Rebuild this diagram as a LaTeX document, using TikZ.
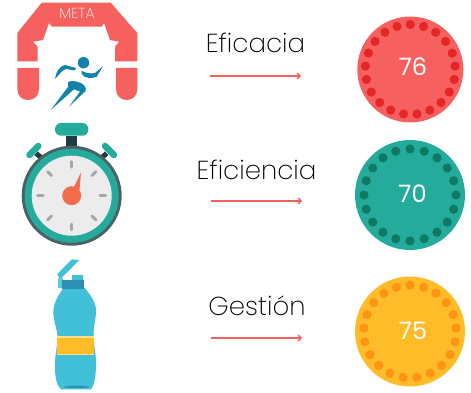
\documentclass[tikz,border=0pt]{standalone}
\usepackage{fontspec}
\setmainfont[UprightFont=* ExtraLight]{Poppins}
\newfontfamily\numfont{Poppins}
\usetikzlibrary{arrows.meta}
\definecolor{archred}{HTML}{F6605E}
\definecolor{runblue}{HTML}{1283A8}
\definecolor{teal}{HTML}{24AB9B}
\definecolor{tealdark}{HTML}{0E7A63}
\definecolor{ringgrey}{HTML}{4A6266}
\definecolor{stemdark}{HTML}{1F3A40}
\definecolor{facegrey}{HTML}{ECECEC}
\definecolor{tickgrey}{HTML}{A7A7A7}
\definecolor{handred}{HTML}{F26B4B}
\definecolor{bottleblue}{HTML}{42C0D8}
\definecolor{capblue}{HTML}{2E8FB5}
\definecolor{amber}{HTML}{FFBB28}
\definecolor{amberdark}{HTML}{FF9412}
\definecolor{paleamber}{HTML}{FFE08A}
\definecolor{dotred}{HTML}{E62526}
\tikzset{
  x=1pt,y=-1pt,
  title/.style={anchor=base,font=\fontsize{26}{30}\selectfont,text=black,inner sep=0pt},
  score/.style={anchor=center,font=\numfont\fontsize{24}{26}\selectfont,text=white,inner sep=0pt},
  flow/.style={draw=archred,line width=1.3pt,-{Straight Barb[length=3pt,width=6pt]}},
  tick/.style={draw=tickgrey,line width=3pt,line cap=round}
}
\newcommand{\dotring}[7]{% cx cy r fill dotcolor n ringr
  \fill[#4] (#1,#2) circle[radius=#3];
  \foreach \k in {1,...,#6}{
    \fill[#5] ({#1+#7*cos(90-(\k-1)*360/#6)},{#2-#7*sin(90-(\k-1)*360/#6)}) circle[radius=4.6];
  }
}
\begin{document}
\begin{tikzpicture}
\useasboundingbox (0,0) rectangle (471,393);
% arch
\fill[archred] (41.7,2.7) -- (110.7,2.7) -- (137.3,33) -- (137.3,61.5) -- (115,61.5) -- (115,46.7) -- (119,41.7) -- (110,40) -- (104,23) -- (101.7,26.7) -- (52,26.7) -- (49,23) -- (43,40) -- (33,41.7) -- (37.7,46.7) -- (37.7,61.5) -- (17.3,61.5) -- (17.3,33) -- cycle;
\fill[archred] (17.3,68) -- (39,68) -- (39,89) .. controls (39,96) and (34,100) .. (28.2,100) .. controls (22,100) and (17.3,96) .. (17.3,89) -- cycle;
\fill[archred] (116,68) -- (137.3,68) -- (137.3,89) .. controls (137.3,96) and (132.5,100) .. (126.7,100) .. controls (121,100) and (116,96) .. (116,89) -- cycle;
\node[anchor=base,font=\fontsize{14.5}{16}\selectfont,text=white,inner sep=0pt] (meta) at (77,19) {META};
% runner
\fill[runblue] (83.5,62.7) circle[radius=5.7];
\fill[runblue] (55,79) .. controls (56,73) and (58,67) .. (65,65) -- (76,68) -- (75,70.5) -- (66,69) .. controls (62,70) and (60,74) .. cycle;
\fill[runblue] (81.7,70.7) .. controls (85,73) and (90,74) .. (95,73) -- (103,66) -- (96.7,76.7) .. controls (92,78.5) and (85,79) .. (81.7,74) -- cycle;
\fill[runblue] (68,82) .. controls (72,80.5) and (76,81) .. (80,82.7) .. controls (84,84) and (87,88) .. (85.5,91) -- (69,106.7) -- (80,91.7) -- (74,89.3) -- (50.7,110) -- (68,87) -- cycle;
% stopwatch
\fill[teal,rounded corners=6pt] (55,123) rectangle (88.3,135.7);
\fill[stemdark] (65.7,135.7) rectangle (77.3,147);
\draw[stemdark,line width=5pt] (36,153.3) -- (41.7,158);
\draw[stemdark,line width=5pt] (106.7,153.3) -- (101.7,157.7);
\draw[teal,line width=6.5pt,line cap=round] (29.5,155) -- (38.3,146);
\draw[teal,line width=6.5pt,line cap=round] (114,155) -- (105,146);
\fill[ringgrey] (71.7,195.7) circle[radius=50];
\fill[teal] (71.7,195.7) circle[radius=47];
\fill[facegrey] (71.7,195.7) circle[radius=40];
\foreach \a in {0,45,...,315}{
  \draw[tick] ({71.7+28.5*cos(\a)},{195.7+28.5*sin(\a)}) -- ({71.7+34*cos(\a)},{195.7+34*sin(\a)});
}
\fill[handred] (71.7,195.7) circle[radius=9.5];
\fill[handred] (74,187) -- (81,172.3) -- (79.5,190) -- cycle;
% bottle
\fill[bottleblue] (57.3,274) -- (71.7,259.3) -- (79.3,260) -- (60,279.3) -- cycle;
\fill[bottleblue] (72.3,275) rectangle (82.7,281);
\fill[bottleblue!85!white] (58.3,278) rectangle (63.3,288);
\fill[bottleblue] (63.3,288) -- (85,288) .. controls (91,296) and (96.5,303) .. (96,312) .. controls (95.5,322) and (93,328) .. (93.6,337) .. controls (94,347) and (96.5,356) .. (96,367) .. controls (95.5,378) and (94,386) .. (91,389.3) -- (61,389.3) .. controls (57,386) and (55,378) .. (55,367) .. controls (54.5,356) and (57.5,347) .. (57.6,337) .. controls (57,328) and (53.5,322) .. (53.3,312) .. controls (53.5,303) and (58,296) .. cycle;
\fill[capblue] (62.3,280) rectangle (84.3,289.3);
\fill[paleamber] (57.3,336) rectangle (94,355.3);
\fill[amber] (57.3,337.5) rectangle (94,353.5);
\fill[capblue] (76.8,386.8) ellipse[x radius=12.5,y radius=1.2];
% circles
\dotring{410.3}{69.5}{53}{archred}{dotred}{21}{45}
\dotring{410}{195}{55}{teal}{tealdark}{20}{46}
\dotring{410}{331.5}{55}{amber}{amberdark}{21}{46.3}
\node[score] (s1) at (413,67) {76};
\node[score] (s2) at (412.5,194) {70};
\node[score] (s3) at (413,331) {75};
% labels
\node[title] (l1) at (255.5,53) {Eficacia};
\node[title] (l2) at (256.5,179) {Eficiencia};
\node[title] (l3) at (257,315) {Gestión};
% arrows
\coordinate (a1) at (210,76); \coordinate (b1) at (301,76);
\coordinate (a2) at (211,201); \coordinate (b2) at (302,201);
\coordinate (a3) at (211,338); \coordinate (b3) at (302,338);
\draw[flow] (a1) -- (b1);
\draw[flow] (a2) -- (b2);
\draw[flow] (a3) -- (b3);
\end{tikzpicture}
\end{document}
